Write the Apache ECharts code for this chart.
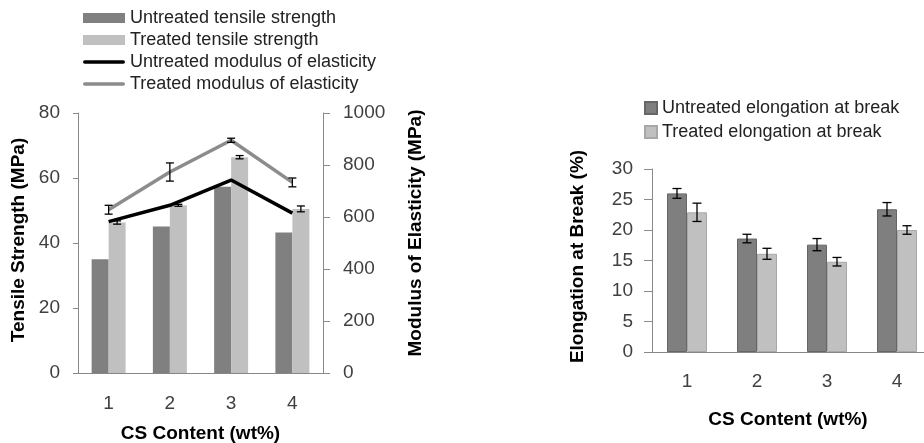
<!DOCTYPE html>
<html>
<head>
<meta charset="utf-8">
<script src="https://cdn.jsdelivr.net/npm/echarts@6/dist/echarts.min.js"></script>
<style>
html,body{margin:0;padding:0;background:#fff;}
#chart{width:924px;height:443px;}
</style>
</head>
<body>
<div id="chart"></div>
<script>
// ---------- data ----------
const categories = ['1', '2', '3', '4'];

const untreatedTensile = [35.0, 45.1, 57.3, 43.2];
const treatedTensile = [46.3, 51.6, 66.4, 50.5];
const treatedTensileErr = [0.5, 0.3, 0.5, 0.9];

const untreatedModulus = [582, 645, 742, 615];
const treatedModulus = [628, 773, 895, 733];
const treatedModulusErr = [17, 35, 8, 17];

const untreatedElong = [26.0, 18.6, 17.6, 23.4];
const untreatedElongErr = [0.8, 0.7, 1.0, 1.1];
const treatedElong = [22.9, 16.1, 14.8, 20.0];
const treatedElongErr = [1.5, 0.9, 0.7, 0.7];

const tensileTicks = [0, 80, 20];
const modulusTicks = [0, 1000, 200];
const elongTicks = [0, 30, 5];

// ---------- helpers ----------
const FONT = 'Liberation Sans';
function errData(vals, errs) {
  return vals.map((v, i) => [i, v - errs[i], v + errs[i]]);
}
function errRender(offsetPx, capHalf) {
  return function (params, api) {
    const idx = api.value(0);
    const lo = api.coord([idx, api.value(1)]);
    const hi = api.coord([idx, api.value(2)]);
    const x = lo[0] + offsetPx;
    const style = { stroke: '#000', lineWidth: 1.3 };
    return {
      type: 'group',
      children: [
        { type: 'line', shape: { x1: x, y1: lo[1], x2: x, y2: hi[1] }, style },
        { type: 'line', shape: { x1: x - capHalf, y1: lo[1], x2: x + capHalf, y2: lo[1] }, style },
        { type: 'line', shape: { x1: x - capHalf, y1: hi[1], x2: x + capHalf, y2: hi[1] }, style }
      ]
    };
  };
}

const axisLineGray = { show: true, lineStyle: { color: '#8a8a8a', width: 1 } };
const labelStyle = { color: '#404040', fontSize: 19, fontFamily: FONT };
const nameStyle = { color: '#000', fontSize: 19, fontWeight: 'bold', fontFamily: FONT };
const lineIcon = 'path://M1.75,0 L40.25,0 A1.75,1.75 0 0 1 40.25,3.5 L1.75,3.5 A1.75,1.75 0 0 1 1.75,0 Z';

const chart = echarts.init(document.getElementById('chart'));
const option = {
  animation: false,
  backgroundColor: '#fff',
  textStyle: { fontFamily: FONT },
  legend: [
    {
      orient: 'vertical', left: 83, top: 9, itemGap: 4, padding: 0,
      itemWidth: 42, itemHeight: 10,
      textStyle: { fontSize: 18, color: '#222', fontFamily: FONT },
      data: [
        { name: 'Untreated tensile strength', icon: 'rect' },
        { name: 'Treated tensile strength', icon: 'rect' },
        { name: 'Untreated modulus of elasticity', icon: lineIcon },
        { name: 'Treated modulus of elasticity', icon: lineIcon }
      ]
    },
    {
      orient: 'vertical', left: 644, top: 99, itemGap: 6, padding: 0,
      itemWidth: 12, itemHeight: 12,
      textStyle: { fontSize: 18, color: '#222', fontFamily: FONT },
      data: [
        { name: 'Untreated elongation at break', icon: 'rect' },
        { name: 'Treated elongation at break', icon: 'rect' }
      ]
    }
  ],
  grid: [
    { left: 78, top: 113, width: 245, height: 260, outerBoundsMode: 'none', containLabel: false },
    { left: 652, top: 169, width: 280, height: 183, outerBoundsMode: 'none', containLabel: false }
  ],
  xAxis: [
    {
      type: 'category', gridIndex: 0, data: categories,
      axisLine: { show: true, lineStyle: { color: '#868686' } },
      axisTick: { show: false },
      axisLabel: Object.assign({ margin: 21 }, labelStyle),
      name: 'CS Content (wt%)', nameLocation: 'middle', nameGap: 51,
      nameTextStyle: nameStyle
    },
    {
      type: 'category', gridIndex: 1, data: categories,
      axisLine: { show: true, lineStyle: { color: '#868686' } },
      axisTick: { show: false },
      axisLabel: Object.assign({ margin: 20 }, labelStyle),
      name: 'CS Content (wt%)', nameLocation: 'middle', nameGap: 58,
      nameTextStyle: Object.assign({}, nameStyle, { padding: [0, 8, 0, 0] })
    }
  ],
  yAxis: [
    {
      type: 'value', gridIndex: 0, position: 'left',
      min: tensileTicks[0], max: tensileTicks[1], interval: tensileTicks[2],
      axisLine: axisLineGray,
      axisTick: { show: true, inside: false, length: 5, lineStyle: { color: '#8a8a8a' } },
      splitLine: { show: false },
      axisLabel: Object.assign({ margin: 18 }, labelStyle),
      name: 'Tensile Strength (MPa)', nameLocation: 'middle', nameRotate: 90, nameGap: 50,
      nameTextStyle: Object.assign({}, nameStyle, { padding: [0, 0, 0, 6] })
    },
    {
      type: 'value', gridIndex: 0, position: 'right',
      min: modulusTicks[0], max: modulusTicks[1], interval: modulusTicks[2],
      axisLine: axisLineGray,
      axisTick: { show: true, inside: false, length: 7, lineStyle: { color: '#8a8a8a' } },
      splitLine: { show: false },
      axisLabel: Object.assign({ margin: 20, formatter: (v) => String(v) }, labelStyle),
      name: 'Modulus of Elasticity (MPa)', nameLocation: 'middle', nameRotate: 90, nameGap: 83,
      nameTextStyle: Object.assign({}, nameStyle, { padding: [0, 0, 0, 20] })
    },
    {
      type: 'value', gridIndex: 1, position: 'left',
      min: elongTicks[0], max: elongTicks[1], interval: elongTicks[2],
      axisLine: axisLineGray,
      axisTick: { show: true, inside: false, length: 8, lineStyle: { color: '#8a8a8a' } },
      splitLine: { show: false },
      axisLabel: Object.assign({ margin: 19 }, labelStyle),
      name: 'Elongation at Break (%)', nameLocation: 'middle', nameRotate: 90, nameGap: 65,
      nameTextStyle: Object.assign({}, nameStyle, { padding: [0, 0, 0, 8] })
    }
  ],
  series: [
    {
      name: 'Untreated tensile strength', type: 'bar', xAxisIndex: 0, yAxisIndex: 0,
      data: untreatedTensile, barWidth: 17, barGap: '0%',
      itemStyle: { color: '#808080' }
    },
    {
      name: 'Treated tensile strength', type: 'bar', xAxisIndex: 0, yAxisIndex: 0,
      data: treatedTensile, barWidth: 17, barGap: '0%',
      itemStyle: { color: '#c0c0c0' }
    },
    {
      name: 'Untreated modulus of elasticity', type: 'line', xAxisIndex: 0, yAxisIndex: 1,
      data: untreatedModulus, symbol: 'none', z: 5,
      lineStyle: { color: '#000', width: 3.5 }, itemStyle: { color: '#000' }
    },
    {
      name: 'Treated modulus of elasticity', type: 'line', xAxisIndex: 0, yAxisIndex: 1,
      data: treatedModulus, symbol: 'none', z: 5,
      lineStyle: { color: '#8c8c8c', width: 3.5 }, itemStyle: { color: '#8c8c8c' }
    },
    {
      type: 'custom', xAxisIndex: 0, yAxisIndex: 0, z: 10,
      renderItem: errRender(8.5, 4), data: errData(treatedTensile, treatedTensileErr)
    },
    {
      type: 'custom', xAxisIndex: 0, yAxisIndex: 1, z: 10,
      renderItem: errRender(0, 4), data: errData(treatedModulus, treatedModulusErr)
    },
    {
      name: 'Untreated elongation at break', type: 'bar', xAxisIndex: 1, yAxisIndex: 2,
      data: untreatedElong, barWidth: 20, barGap: '0%',
      itemStyle: { color: '#7f7f7f', borderColor: '#666', borderWidth: 1 }
    },
    {
      name: 'Treated elongation at break', type: 'bar', xAxisIndex: 1, yAxisIndex: 2,
      data: treatedElong, barWidth: 20, barGap: '0%',
      itemStyle: { color: '#c0c0c0', borderColor: '#a8a8a8', borderWidth: 1 }
    },
    {
      type: 'custom', xAxisIndex: 1, yAxisIndex: 2, z: 10,
      renderItem: errRender(-10, 4.5), data: errData(untreatedElong, untreatedElongErr)
    },
    {
      type: 'custom', xAxisIndex: 1, yAxisIndex: 2, z: 10,
      renderItem: errRender(10, 4.5), data: errData(treatedElong, treatedElongErr)
    }
  ]
};
chart.setOption(option);
</script>
</body>
</html>
